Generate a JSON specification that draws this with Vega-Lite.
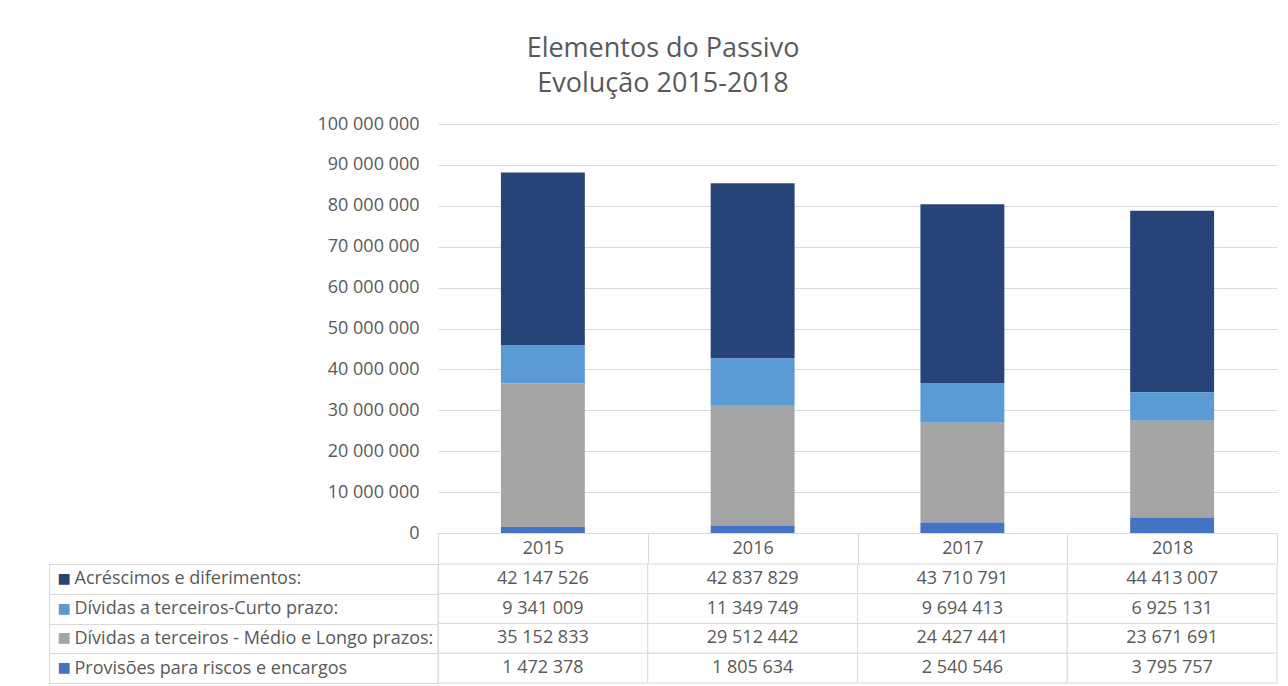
{
  "$schema": "https://vega.github.io/schema/vega-lite/v6.json",
  "padding": {"left": 48, "top": 35, "right": 8, "bottom": 0},
  "background": "white",
  "title": {
    "text": ["Elementos do Passivo", "Evolução 2015-2018"],
    "fontSize": 27,
    "font": "Open Sans",
    "fontWeight": "normal",
    "color": "#595959",
    "anchor": "middle",
    "lineHeight": 35,
    "offset": 17
  },
  "config": {
    "locale": {"number": {"decimal": ",", "thousands": " ", "grouping": [3], "currency": ["", " €"]}},
    "view": {"stroke": null},
    "font": "Open Sans"
  },
  "data": {
    "values": [
      {"ano": "2015", "serie": "Acréscimos e diferimentos:", "valor": 42147526, "ordem": 4},
      {"ano": "2015", "serie": "Dívidas a terceiros-Curto prazo:", "valor": 9341009, "ordem": 3},
      {"ano": "2015", "serie": "Dívidas a terceiros - Médio e Longo prazos:", "valor": 35152833, "ordem": 2},
      {"ano": "2015", "serie": "Provisões para riscos e encargos", "valor": 1472378, "ordem": 1},
      {"ano": "2016", "serie": "Acréscimos e diferimentos:", "valor": 42837829, "ordem": 4},
      {"ano": "2016", "serie": "Dívidas a terceiros-Curto prazo:", "valor": 11349749, "ordem": 3},
      {"ano": "2016", "serie": "Dívidas a terceiros - Médio e Longo prazos:", "valor": 29512442, "ordem": 2},
      {"ano": "2016", "serie": "Provisões para riscos e encargos", "valor": 1805634, "ordem": 1},
      {"ano": "2017", "serie": "Acréscimos e diferimentos:", "valor": 43710791, "ordem": 4},
      {"ano": "2017", "serie": "Dívidas a terceiros-Curto prazo:", "valor": 9694413, "ordem": 3},
      {"ano": "2017", "serie": "Dívidas a terceiros - Médio e Longo prazos:", "valor": 24427441, "ordem": 2},
      {"ano": "2017", "serie": "Provisões para riscos e encargos", "valor": 2540546, "ordem": 1},
      {"ano": "2018", "serie": "Acréscimos e diferimentos:", "valor": 44413007, "ordem": 4},
      {"ano": "2018", "serie": "Dívidas a terceiros-Curto prazo:", "valor": 6925131, "ordem": 3},
      {"ano": "2018", "serie": "Dívidas a terceiros - Médio e Longo prazos:", "valor": 23671691, "ordem": 2},
      {"ano": "2018", "serie": "Provisões para riscos e encargos", "valor": 3795757, "ordem": 1}
    ]
  },
  "spacing": -9,
  "vconcat": [
    {
      "width": 839,
      "height": 409,
      "mark": {"type": "bar", "width": {"band": 0.4}},
      "encoding": {
        "x": {
          "field": "ano", "type": "nominal",
          "scale": {"paddingInner": 0, "paddingOuter": 0},
          "axis": {
            "title": null, "labelAngle": 0, "tickBand": "extent", "tickSize": 30,
            "tickColor": "#d9d9d9", "domainColor": "#d9d9d9", "labelFontSize": 18,
            "labelColor": "#595959", "labelPadding": -15, "labelBaseline": "middle"
          }
        },
        "y": {
          "field": "valor", "type": "quantitative", "stack": "zero",
          "scale": {"domain": [0, 100000000]},
          "axis": {
            "title": null,
            "values": [0, 10000000, 20000000, 30000000, 40000000, 50000000, 60000000, 70000000, 80000000, 90000000, 100000000],
            "format": ",d", "domain": false, "ticks": false, "gridColor": "#d9d9d9",
            "labelFontSize": 18, "labelColor": "#595959", "labelPadding": 19
          }
        },
        "color": {
          "field": "serie", "type": "nominal",
          "scale": {
            "domain": ["Acréscimos e diferimentos:", "Dívidas a terceiros-Curto prazo:", "Dívidas a terceiros - Médio e Longo prazos:", "Provisões para riscos e encargos"],
            "range": ["#264478", "#5b9bd5", "#a5a5a5", "#4472c4"]
          },
          "legend": null
        },
        "order": {"field": "ordem", "type": "quantitative", "sort": "ascending"}
      }
    },
    {
      "width": 839,
      "height": 119,
      "resolve": {"axis": {"y": "independent"}},
      "layer": [
        {
          "mark": {"type": "rect", "fill": "white", "stroke": "#d9d9d9", "strokeWidth": 1},
          "encoding": {
            "x": {"field": "ano", "type": "nominal", "scale": {"paddingInner": 0, "paddingOuter": 0}, "axis": null},
            "y": {
              "field": "serie", "type": "nominal",
              "sort": ["Acréscimos e diferimentos:", "Dívidas a terceiros-Curto prazo:", "Dívidas a terceiros - Médio e Longo prazos:", "Provisões para riscos e encargos"],
              "scale": {"paddingInner": 0, "paddingOuter": 0},
              "axis": {
                "title": null, "tickBand": "extent", "tickSize": 389, "tickColor": "#d9d9d9",
                "domainColor": "#d9d9d9", "labelAlign": "left", "labelPadding": -25,
                "labelFontSize": 18, "labelColor": "#595959", "labelLimit": 400
              }
            }
          }
        },
        {
          "mark": {"type": "text", "fontSize": 18, "color": "#595959"},
          "encoding": {
            "x": {"field": "ano", "type": "nominal", "axis": null},
            "y": {
              "field": "serie", "type": "nominal",
              "sort": ["Acréscimos e diferimentos:", "Dívidas a terceiros-Curto prazo:", "Dívidas a terceiros - Médio e Longo prazos:", "Provisões para riscos e encargos"],
              "axis": {
                "title": null, "orient": "left", "offset": 389, "ticks": false,
                "domainColor": "#d9d9d9", "labelExpr": "'■'", "labelAlign": "left",
                "labelPadding": -8, "labelFont": "DejaVu Sans", "labelFontSize": 14,
                "labelColor": {
                  "condition": [
                    {"test": "datum.value === 'Acréscimos e diferimentos:'", "value": "#264478"},
                    {"test": "datum.value === 'Dívidas a terceiros-Curto prazo:'", "value": "#5b9bd5"},
                    {"test": "datum.value === 'Dívidas a terceiros - Médio e Longo prazos:'", "value": "#a5a5a5"}
                  ],
                  "value": "#4472c4"
                }
              }
            },
            "text": {"field": "valor", "type": "quantitative", "format": ",d"}
          }
        }
      ]
    }
  ]
}
